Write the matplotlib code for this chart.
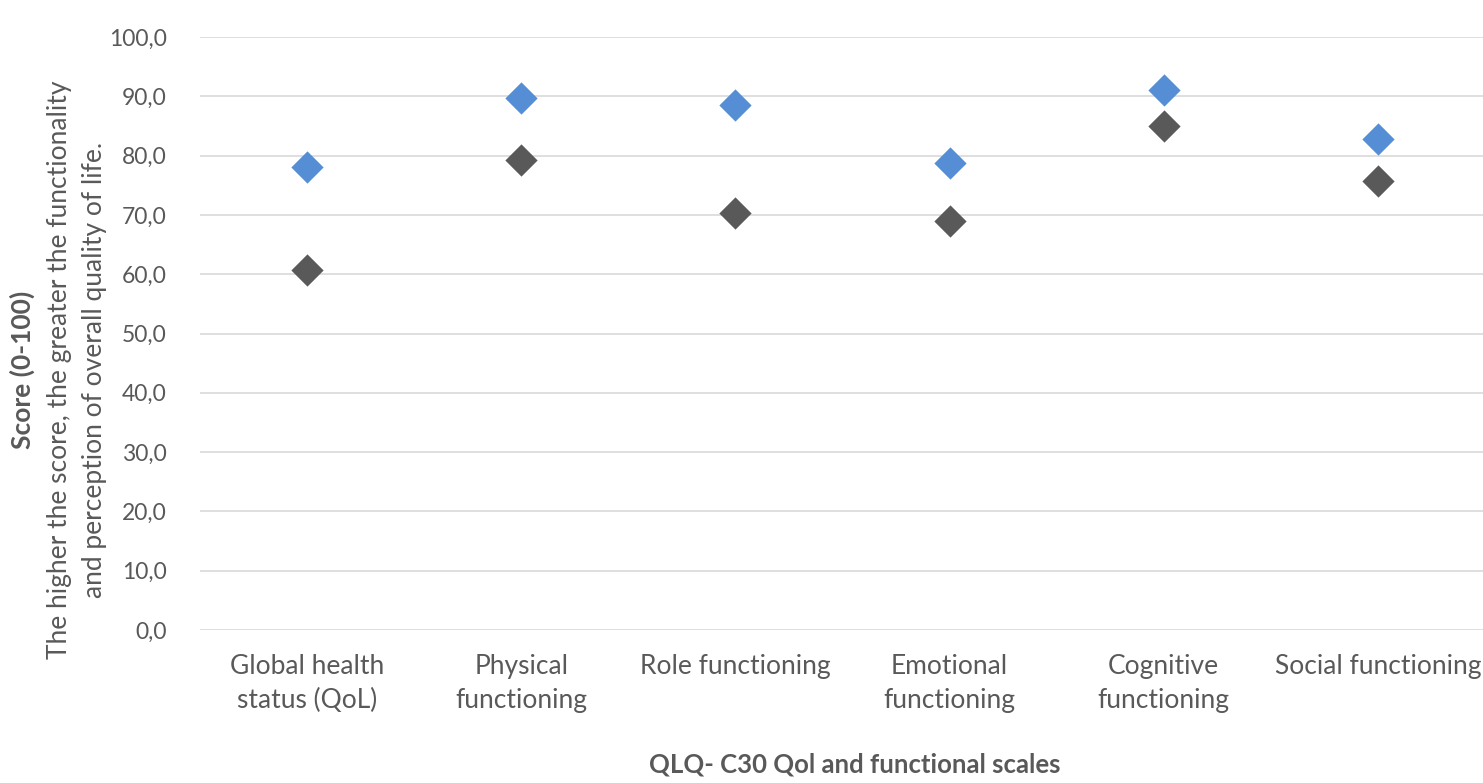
import numpy as np
import matplotlib.pyplot as plt
from matplotlib.ticker import FuncFormatter

# QLQ-C30 scores per scale, two groups
categories = ['Global health\nstatus (QoL)', 'Physical\nfunctioning', 'Role functioning',
              'Emotional\nfunctioning', 'Cognitive\nfunctioning', 'Social functioning']
group_blue = [78.0, 89.7, 88.5, 78.8, 91.1, 82.8]
group_dark = [60.7, 79.3, 70.3, 69.0, 85.0, 75.7]

plt.rcParams['font.family'] = ['Lato', 'DejaVu Sans']
text_col = '#595959'

fig = plt.figure(figsize=(14.83, 7.83), dpi=100)
ax = fig.add_axes([200 / 1483, 153 / 783, 1285 / 1483, 593 / 783])

x = np.arange(len(categories))
ax.scatter(x, group_dark, marker='D', s=270, color='#595959', zorder=3, linewidths=0)
ax.scatter(x, group_blue, marker='D', s=270, color='#558ED5', zorder=3, linewidths=0)

ax.set_xlim(-0.5, len(categories) - 0.5)
ax.set_ylim(0, 100)
ax.set_yticks(np.arange(0, 101, 10))
ax.yaxis.set_major_formatter(FuncFormatter(lambda v, p: f'{v:.1f}'.replace('.', ',')))
ax.set_xticks(x)
ax.set_xticklabels(categories, fontsize=19, color=text_col, linespacing=1.45)
ax.tick_params(axis='y', labelsize=16.5, labelcolor=text_col, length=0, pad=24)
ax.tick_params(axis='x', length=0, pad=17)
ax.grid(axis='y', color='#d9d9d9', linewidth=1.2)
ax.set_axisbelow(True)
for s in ax.spines.values():
    s.set_visible(False)

# x axis title
fig.text(855 / 1483, 1 - 765 / 783, 'QLQ- C30 Qol and functional scales', ha='center', va='center',
         fontsize=18.5, fontweight='bold', color=text_col)

# multi-line y axis title, first line bold
yc = 1 - 370 / 783
fig.text(22 / 1483, yc, 'Score (0-100)', rotation=90, ha='center', va='center',
         fontsize=19, fontweight='bold', color=text_col)
fig.text(60 / 1483, yc, 'The higher the score, the greater the functionality', rotation=90,
         ha='center', va='center', fontsize=19, color=text_col)
fig.text(95 / 1483, yc, 'and perception of overall quality of life.', rotation=90,
         ha='center', va='center', fontsize=19, color=text_col)

fig.savefig('out.png', dpi=100)
